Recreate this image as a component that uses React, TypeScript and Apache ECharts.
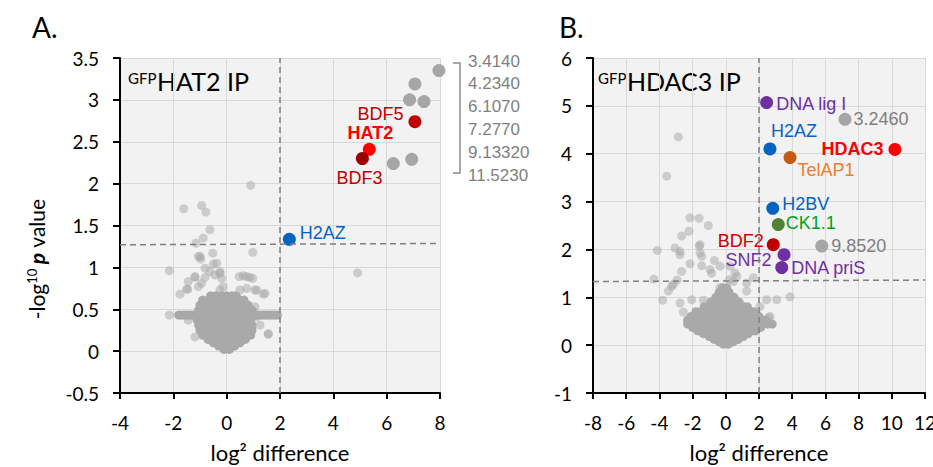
import React, { useEffect, useRef } from "react";
import * as echarts from "echarts";

// ---------------- Panel A: GFP HAT2 IP ----------------
const hat2Names = ["BDF5", "HAT2", "BDF3", "H2AZ"];
const hat2X = [7.06, 5.35, 5.09, 2.35];
const hat2Y = [2.74, 2.41, 2.3, 1.335];
const hat2TopHits = [
  [7.96, 3.35],
  [7.06, 3.19],
  [6.86, 3.0],
  [7.4, 2.98],
  [6.94, 2.29],
  [6.25, 2.24],
];
const hat2TopList = ["3.4140", "4.2340", "6.1070", "7.2770", "9.13320", "11.5230"];
const hat2Scatter = [
  [0.9, 1.98], [-1.61, 1.7], [-0.94, 1.74], [-0.78, 1.66], [-0.63, 1.45], [-0.88, 1.35],
  [-1.15, 1.29], [0.98, 1.18], [-0.52, 1.17], [-1.06, 1.13], [-0.97, 1.1], [-2.15, 0.96],
  [-0.5, 1.04], [-0.81, 0.99], [-0.25, 0.95], [-0.63, 0.95], [-1.19, 0.88], [-1.44, 0.83],
  [-0.81, 0.88], [-0.44, 0.91], [-0.19, 0.87], [-0.94, 0.81], [-1.5, 0.74], [-1.75, 0.68],
  [-1.06, 0.77], [0.62, 0.9], [0.87, 0.88], [0.98, 0.87], [0.75, 0.75], [1.13, 0.73],
  [1.37, 0.68], [0.5, 0.73], [-2.15, 0.43], [1.06, 0.53], [1.13, 0.41], [1.25, 0.31],
  [1.56, 0.2], [-1.19, 0.17], [-1.44, 0.37], [-0.13, 0.77], [-0.25, 0.73], [4.91, 0.935],
  [-1.46, 0.74], [-1.19, 0.89], [-1.0, 1.13], [-0.37, 1.05], [-0.25, 0.93], [0.47, 0.89],
  [0.75, 0.89], [1.06, 0.73], [1.44, 0.69], [1.56, 0.21],
];
const hat2Band = [
  -1.8, -1.7, -1.6, -1.5, -1.4, -1.3, -1.2, -1.1, -1.0, -0.9, -0.8, -0.7, -0.6, -0.5, -0.4,
  -0.3, -0.2, -0.1, 0, 0.1, 0.2, 0.3, 0.4, 0.5, 0.6, 0.7, 0.8, 0.9, 1.0, 1.1, 1.2, 1.3, 1.4,
  1.5, 1.6, 1.7, 1.8, 1.9,
];
const hat2BandY = 0.43;
const hat2Cloud: [number, number[]][] = [
  [0.02, [-0.1, 0.1]],
  [0.06, [-0.3, -0.1, 0.1, 0.3]],
  [0.1, [-0.5, -0.3, -0.1, 0.1, 0.3, 0.5]],
  [0.14, [-0.7, -0.5, -0.3, -0.1, 0.1, 0.3, 0.5, 0.7]],
  [0.19, [-0.9, -0.7, -0.5, -0.3, -0.1, 0.1, 0.3, 0.5, 0.7, 0.9]],
  [0.25, [-1.0, -0.8, -0.6, -0.4, -0.2, 0, 0.2, 0.4, 0.6, 0.8, 0.95]],
  [0.31, [-1.05, -0.85, -0.65, -0.45, -0.25, -0.05, 0.15, 0.35, 0.55, 0.75, 0.95]],
  [0.37, [-1.1, -0.9, -0.7, -0.5, -0.3, -0.1, 0.1, 0.3, 0.5, 0.7, 0.9]],
  [0.49, [-1.05, -0.85, -0.65, -0.45, -0.25, -0.05, 0.15, 0.35, 0.55, 0.75, 0.95]],
  [0.55, [-1.0, -0.8, -0.6, -0.4, -0.2, 0, 0.2, 0.4, 0.6, 0.8]],
  [0.61, [-0.9, -0.7, -0.5, -0.3, -0.1, 0.1, 0.3, 0.5, 0.65]],
  [0.66, [-0.6, -0.4, -0.2, 0, 0.2, 0.35]],
];
const hat2HLine = [[-4, 1.27], [8, 1.285]];
const hat2VLine = [[2, -0.5], [2, 3.5]];

// ---------------- Panel B: GFP HDAC3 IP ----------------
const hdacNames = ["DNA lig I", "3.2460", "H2AZ", "TelAP1", "HDAC3", "H2BV", "CK1.1", "BDF2", "SNF2", "DNA priS", "9.8520"];
const hdacX = [2.46, 7.18, 2.66, 3.87, 10.19, 2.83, 3.16, 2.86, 3.51, 3.37, 5.78];
const hdacY = [5.07, 4.72, 4.1, 3.92, 4.09, 2.86, 2.52, 2.1, 1.89, 1.62, 2.07];
const hdacScatter = [
  [-2.86, 4.35], [-3.56, 3.53], [-2.16, 2.66], [-1.61, 2.65], [-1.05, 2.5], [-2.22, 2.38],
  [-2.66, 2.28], [-1.6, 2.07], [-4.13, 1.98], [-3.06, 2.03], [-2.76, 1.89], [-1.45, 1.86],
  [-2.16, 1.7], [-1.45, 1.66], [-0.69, 1.77], [-0.35, 1.65], [-2.66, 1.54], [-0.85, 1.5],
  [0.25, 1.65], [0.66, 1.44], [0.21, 1.37], [1.66, 1.41], [-4.33, 1.38], [-2.93, 1.36],
  [-3.26, 1.23], [-3.46, 1.13], [-3.8, 0.94], [-2.76, 0.88], [-2.05, 0.95], [-1.35, 0.94],
  [-2.56, 0.69], [3.07, 0.95], [3.87, 1.01], [2.46, 0.95], [1.26, 1.3], [-0.35, 1.2],
  [2.06, 0.81], [2.56, 0.57], [2.46, 0.46], [-1.55, 1.93], [-2.76, 1.96], [-3.16, 1.27],
  [-0.95, 1.58], [0.55, 1.51], [0.45, 1.33], [1.26, 1.13], [2.66, 0.6], [-1.55, 2.1],
];
const hdacCloud: [number, number[]][] = [
  [0.02, [-0.15, 0.15]],
  [0.07, [-0.4, -0.1, 0.2, 0.45]],
  [0.12, [-0.7, -0.4, -0.1, 0.2, 0.5, 0.75]],
  [0.18, [-1.0, -0.7, -0.4, -0.1, 0.2, 0.5, 0.8, 1.05]],
  [0.24, [-1.35, -1.05, -0.75, -0.45, -0.15, 0.15, 0.45, 0.75, 1.05, 1.35]],
  [0.3, [-1.7, -1.4, -1.1, -0.8, -0.5, -0.2, 0.1, 0.4, 0.7, 1.0, 1.3, 1.6, 1.8]],
  [0.37, [-2.0, -1.7, -1.4, -1.1, -0.8, -0.5, -0.2, 0.1, 0.4, 0.7, 1.0, 1.3, 1.6, 1.9, 2.1]],
  [0.44, [-2.3, -2.0, -1.7, -1.4, -1.1, -0.8, -0.5, -0.2, 0.1, 0.4, 0.7, 1.0, 1.3, 1.6, 1.9, 2.2, 2.5, 2.8]],
  [0.52, [-2.3, -2.0, -1.7, -1.4, -1.1, -0.8, -0.5, -0.2, 0.1, 0.4, 0.7, 1.0, 1.3, 1.6, 1.9, 2.2, 2.4]],
  [0.6, [-2.1, -1.8, -1.5, -1.2, -0.9, -0.6, -0.3, 0, 0.3, 0.6, 0.9, 1.2, 1.5, 1.8, 2.0]],
  [0.7, [-1.8, -1.5, -1.2, -0.9, -0.6, -0.3, 0, 0.3, 0.6, 0.9, 1.2, 1.5, 1.7]],
  [0.8, [-1.3, -1.0, -0.7, -0.4, -0.1, 0.2, 0.5, 0.8, 1.1, 1.3]],
  [0.9, [-0.9, -0.6, -0.3, 0, 0.3, 0.6, 0.8]],
  [1.0, [-0.6, -0.3, 0, 0.3, 0.5]],
  [1.1, [-0.4, -0.1, 0.2]],
  [1.2, [-0.2, 0.05]],
];
const hdacHLine = [[-8, 1.33], [12, 1.36]];
const hdacVLine = [[2, -1], [2, 6]];

// ---------------- styles (kept separate from data) ----------------
const LABEL_FONT = "'Liberation Sans', Arial, sans-serif";
const AXIS_FONT = "Lato, 'Open Sans', sans-serif";
const SCATTER_COLOR = "rgba(166,166,166,0.5)";
const CLOUD_COLOR = "#a9a9a9";
const HIT_GRAY = "#a6a6a6";

type LS = { dot: string; text: string; pos: string; dist: number; off: [number, number]; bold?: boolean };
const hat2Style: Record<string, LS> = {
  BDF5: { dot: "#c00000", text: "#c00000", pos: "left", dist: 5, off: [0, -8] },
  HAT2: { dot: "#ff0000", text: "#ff0000", pos: "top", dist: 1, off: [1, 0], bold: true },
  BDF3: { dot: "#a00000", text: "#c00000", pos: "bottom", dist: 4, off: [-3, 0] },
  H2AZ: { dot: "#0563c1", text: "#0563c1", pos: "right", dist: 4, off: [0, -6] },
};
const hdacStyle: Record<string, LS> = {
  "DNA lig I": { dot: "#7030a0", text: "#7030a0", pos: "right", dist: 3, off: [0, 1] },
  "3.2460": { dot: HIT_GRAY, text: "#7f7f7f", pos: "right", dist: 2, off: [0, 0] },
  H2AZ: { dot: "#0563c1", text: "#0563c1", pos: "top", dist: 2, off: [24, 0] },
  TelAP1: { dot: "#c55a11", text: "#ed7d31", pos: "right", dist: 1, off: [0, 12] },
  HDAC3: { dot: "#ff0000", text: "#ff0000", pos: "left", dist: 5, off: [0, 0], bold: true },
  H2BV: { dot: "#0563c1", text: "#0563c1", pos: "right", dist: 3, off: [0, -4] },
  "CK1.1": { dot: "#548235", text: "#00a020", pos: "right", dist: 1, off: [0, -2] },
  BDF2: { dot: "#c00000", text: "#d00000", pos: "left", dist: 3, off: [0, -4] },
  SNF2: { dot: "#7030a0", text: "#7030a0", pos: "left", dist: 6, off: [0, 5] },
  "DNA priS": { dot: "#7030a0", text: "#7030a0", pos: "right", dist: 3, off: [0, 0] },
  "9.8520": { dot: HIT_GRAY, text: "#7f7f7f", pos: "right", dist: 3, off: [0, 0] },
};

function cloudPoints(rows: [number, number[]][]) {
  const out: number[][] = [];
  rows.forEach(([y, xs]) => xs.forEach((x) => out.push([x, y])));
  return out;
}

function labeled(names: string[], xs: number[], ys: number[], st: Record<string, LS>) {
  return names.map((n, i) => {
    const s = st[n];
    return {
      name: n,
      value: [xs[i], ys[i]],
      itemStyle: { color: s.dot, opacity: 1 },
      label: {
        show: true,
        formatter: n,
        position: s.pos,
        distance: s.dist,
        offset: s.off,
        color: s.text,
        opacity: 1,
        fontFamily: LABEL_FONT,
        fontSize: 18,
        fontWeight: s.bold ? "bold" : "normal",
      },
    };
  });
}

function axisX(gridIndex: number, min: number, max: number) {
  return {
    type: "value",
    gridIndex,
    min,
    max,
    interval: 2,
    name: "log\u00b2 difference",
    nameLocation: "middle",
    nameGap: 48,
    nameTextStyle: { fontFamily: AXIS_FONT, fontSize: 22, color: "#000" },
    axisLine: { show: true, onZero: false, lineStyle: { color: "#000", width: 2 } },
    axisTick: { show: true, length: 6, lineStyle: { color: "#000", width: 2 } },
    axisLabel: { fontFamily: AXIS_FONT, fontSize: 19, color: "#000", margin: 20 },
    splitLine: { show: true, lineStyle: { color: "#d9d9d9", width: 1 } },
  };
}
function axisY(gridIndex: number, min: number, max: number, interval: number) {
  return {
    type: "value",
    gridIndex,
    min,
    max,
    interval,
    axisLine: { show: true, onZero: false, lineStyle: { color: "#000", width: 2 } },
    axisTick: { show: true, length: 7, lineStyle: { color: "#000", width: 2 } },
    axisLabel: { fontFamily: AXIS_FONT, fontSize: 19, color: "#000", margin: 21 },
    splitLine: { show: true, lineStyle: { color: "#d9d9d9", width: 1 } },
  };
}

const dashed = { color: "#7f7f7f", width: 1.5, type: [6, 4] };

export default function App() {
  const ref = useRef<HTMLDivElement>(null);
  useEffect(() => {
    if (!ref.current) return;
    const chart = echarts.init(ref.current, undefined, { renderer: "svg" });
    const hat2Core = hat2Band.map((x) => [x, hat2BandY]).concat(cloudPoints(hat2Cloud));
    const hdacCore = cloudPoints(hdacCloud);

    const listGraphics = hat2TopList.map((t, i) => ({
      type: "text",
      x: 468,
      y: 61 + i * 22.8,
      style: { text: t, fill: "#7f7f7f", font: `17px ${LABEL_FONT}`, verticalAlign: "middle", align: "left" },
    }));

    const option: any = {
      animation: false,
      backgroundColor: "#fff",
      grid: [
        { left: 120, top: 58, width: 320, height: 335, show: true, backgroundColor: "#f2f2f2", borderWidth: 0, containLabel: false, outerBoundsMode: "none" },
        { left: 593, top: 58, width: 332, height: 335, show: true, backgroundColor: "#f2f2f2", borderWidth: 0, containLabel: false, outerBoundsMode: "none" },
      ],
      xAxis: [axisX(0, -4, 8), axisX(1, -8, 12)],
      yAxis: [axisY(0, -0.5, 3.5, 0.5), axisY(1, -1, 6, 1)],
      series: [
        { type: "scatter", xAxisIndex: 0, yAxisIndex: 0, data: hat2Scatter, symbolSize: 9, itemStyle: { color: SCATTER_COLOR, opacity: 1 }, silent: true },
        { type: "scatter", xAxisIndex: 1, yAxisIndex: 1, data: hdacScatter, symbolSize: 9, itemStyle: { color: SCATTER_COLOR, opacity: 1 }, silent: true },
        { type: "scatter", xAxisIndex: 0, yAxisIndex: 0, data: hat2Core, symbolSize: 9, itemStyle: { color: CLOUD_COLOR, opacity: 1 }, silent: true },
        { type: "scatter", xAxisIndex: 1, yAxisIndex: 1, data: hdacCore, symbolSize: 9, itemStyle: { color: CLOUD_COLOR, opacity: 1 }, silent: true },
        { type: "line", xAxisIndex: 0, yAxisIndex: 0, data: hat2HLine, symbol: "none", lineStyle: dashed },
        { type: "line", xAxisIndex: 0, yAxisIndex: 0, data: hat2VLine, symbol: "none", lineStyle: dashed },
        { type: "line", xAxisIndex: 1, yAxisIndex: 1, data: hdacHLine, symbol: "none", lineStyle: dashed },
        { type: "line", xAxisIndex: 1, yAxisIndex: 1, data: hdacVLine, symbol: "none", lineStyle: dashed },
        { type: "scatter", xAxisIndex: 0, yAxisIndex: 0, data: hat2TopHits, symbolSize: 13, itemStyle: { color: HIT_GRAY, opacity: 1 } },
        { type: "scatter", xAxisIndex: 0, yAxisIndex: 0, data: labeled(hat2Names, hat2X, hat2Y, hat2Style), symbolSize: 13 },
        { type: "scatter", xAxisIndex: 1, yAxisIndex: 1, data: labeled(hdacNames, hdacX, hdacY, hdacStyle), symbolSize: 13 },
      ],
      graphic: [
        { type: "text", x: 32, y: 27, style: { text: "A.", font: `28px ${AXIS_FONT}`, fill: "#000", verticalAlign: "middle" } },
        { type: "text", x: 559, y: 27, style: { text: "B.", font: `28px ${AXIS_FONT}`, fill: "#000", verticalAlign: "middle" } },
        { type: "text", x: 128, y: 78, style: { text: "GFP", font: `15px ${AXIS_FONT}`, fill: "#000", verticalAlign: "middle" } },
        { type: "text", x: 157, y: 81, style: { text: "HAT2 IP", font: `25px ${AXIS_FONT}`, fill: "#000", verticalAlign: "middle" } },
        { type: "text", x: 598, y: 78, style: { text: "GFP", font: `15px ${AXIS_FONT}`, fill: "#000", verticalAlign: "middle" } },
        { type: "text", x: 627, y: 81, style: { text: "HDAC3 IP", font: `25px ${AXIS_FONT}`, fill: "#000", verticalAlign: "middle" } },
        {
          type: "text",
          x: 36,
          y: 259,
          rotation: Math.PI / 2,
          style: {
            text: "{n|-log}{s|10}{p| p}{n| value}",
            align: "center",
            verticalAlign: "middle",
            rich: {
              n: { font: `21px ${AXIS_FONT}`, fill: "#000", verticalAlign: "bottom" },
              s: { font: `13px ${AXIS_FONT}`, fill: "#000", verticalAlign: "top" },
              p: { font: `italic bold 21px ${AXIS_FONT}`, fill: "#000", verticalAlign: "bottom" },
            },
          },
        },
        {
          type: "polyline",
          shape: { points: [[453, 63], [460, 63], [460, 173], [453, 173]] },
          style: { stroke: "#8c8c8c", lineWidth: 1.5, fill: null },
        },
        ...listGraphics,
      ],
    };
    chart.setOption(option);
    return () => chart.dispose();
  }, []);
  return <div ref={ref} style={{ position: "fixed", left: 0, top: 0, width: 933, height: 467 }} />;
}
